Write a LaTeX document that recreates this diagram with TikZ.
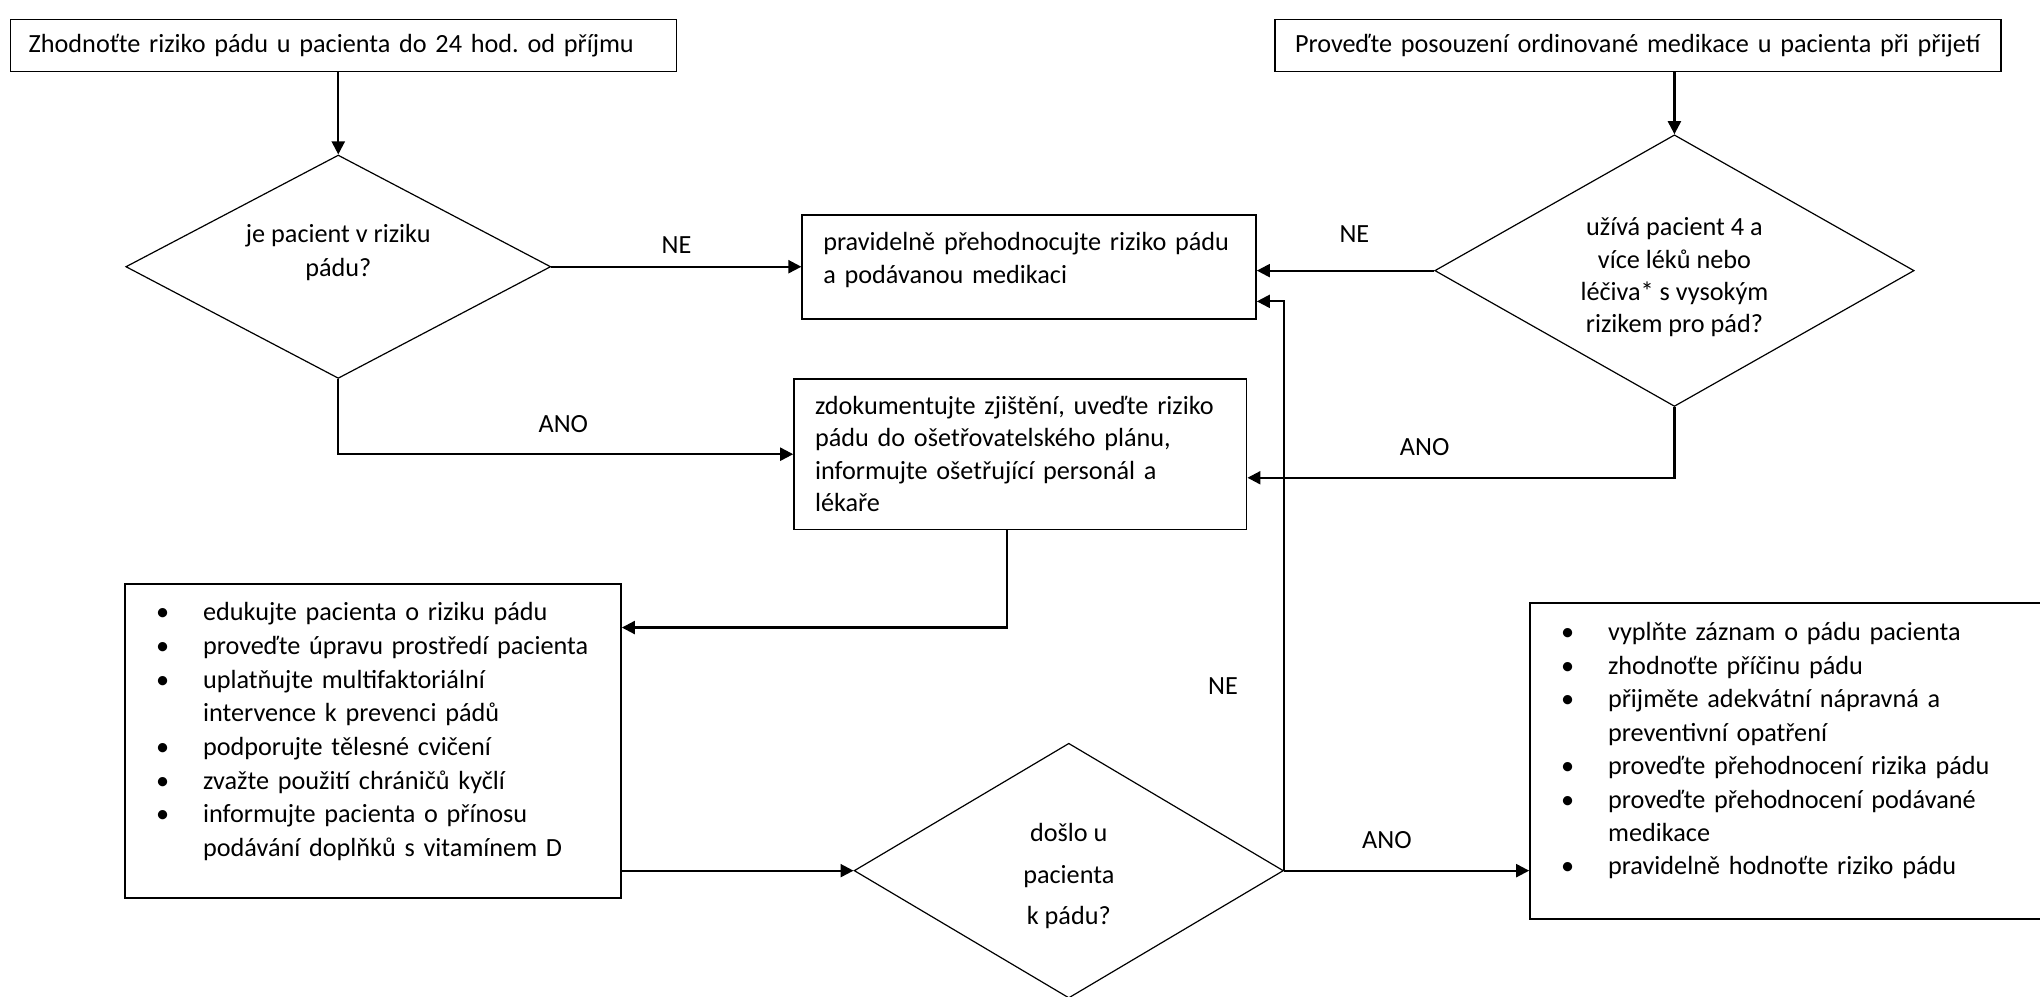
\documentclass[tikz,border=0pt]{standalone}
\usepackage{fontspec}
\setmainfont{Carlito}
\usetikzlibrary{arrows.meta,shapes.geometric,calc}
\newcommand\bitem[1]{\mbox{\makebox[23.4pt][l]{•}#1}}
\newcommand\citem[1]{\mbox{\hspace*{23.4pt}#1}}
\frenchspacing
\begin{document}
\begin{tikzpicture}[x=0.65pt,y=-0.65pt,
  every node/.style={font=\fontsize{13.1}{16.4}\selectfont},
  box/.style={draw, line width=0.85pt, rectangle, align=left, inner ysep=2pt},
  dia/.style={draw, line width=0.6pt, diamond, align=center, inner sep=0pt},
  conn/.style={line width=1.1pt, -{Triangle[length=6.5pt,width=6.5pt]}},
  lbl/.style={inner sep=0pt}
]
\useasboundingbox (0,0) rectangle (1568,766);

% boxes
\node[box, minimum width=332.8pt, minimum height=26pt, inner xsep=9.1pt, text width=314.6pt] (b1) at (264,35)
  {\mbox{Zhodnoťte riziko pádu u pacienta do 24 hod. od příjmu}};
\node[box, minimum width=362.7pt, minimum height=26pt, inner xsep=10pt, text width=342.7pt] (b2) at (1259,35)
  {\mbox{Proveďte posouzení ordinované medikace u pacienta při přijetí}};
\node[box, minimum width=226.7pt, minimum height=52.1pt, inner xsep=10.5pt, text width=205.7pt,
  text depth=25.5pt] (p) at (791,205.35)
  {\mbox{pravidelně přehodnocujte riziko pádu}\\\mbox{a podávanou medikaci}};
\node[box, minimum width=226.1pt, minimum height=75.1pt, inner xsep=10.5pt, text width=205.1pt,
  text depth=49pt, font=\fontsize{13.1}{16.2}\selectfont] (z) at (784.25,349.1)
  {\mbox{zdokumentujte zjištění, uveďte riziko}\\\mbox{pádu do ošetřovatelského plánu,}\\\mbox{informujte ošetřující personál a}\\\mbox{lékaře}};
\node[box, minimum width=247.8pt, minimum height=156.65pt, inner xsep=15.6pt, text width=216.6pt,
  text depth=129pt, font=\fontsize{13.1}{16.8}\selectfont] (l1) at (286.7,569.5)
  {\bitem{edukujte pacienta o riziku pádu}\\
   \bitem{proveďte úpravu prostředí pacienta}\\
   \bitem{uplatňujte multifaktoriální}\\
   \citem{intervence k prevenci pádů}\\
   \bitem{podporujte tělesné cvičení}\\
   \bitem{zvažte použití chráničů kyčlí}\\
   \bitem{informujte pacienta o přínosu}\\
   \citem{podávání doplňků s vitamínem D}};
\node[box, minimum width=257.4pt, minimum height=158.2pt, inner xsep=15.6pt, text width=226.2pt,
  text depth=129pt, font=\fontsize{13.1}{16.7}\selectfont] (l2) at (1374,584.9)
  {\bitem{vyplňte záznam o pádu pacienta}\\
   \bitem{zhodnoťte příčinu pádu}\\
   \bitem{přijměte adekvátní nápravná a}\\
   \citem{preventivní opatření}\\
   \bitem{proveďte přehodnocení rizika pádu}\\
   \bitem{proveďte přehodnocení podávané}\\
   \citem{medikace}\\
   \bitem{pravidelně hodnoťte riziko pádu}};

% diamonds
\node[dia, aspect=2, minimum width=212.3pt, minimum height=111.6pt, text depth=16pt,
  font=\fontsize{13.1}{17}\selectfont] (d1) at (260,205)
  {je pacient v riziku\\pádu?};
\node[dia, aspect=1.8, minimum width=239.5pt, minimum height=135.7pt, text height=64pt,
  font=\fontsize{13.1}{16.1}\selectfont] (d2) at (1287,208)
  {užívá pacient 4 a\\více léků nebo\\léčiva* s vysokým\\rizikem pro pád?};
\node[dia, aspect=1.7, minimum width=214.5pt, minimum height=127.3pt, text height=56.4pt,
  font=\fontsize{13.1}{20.8}\selectfont] (d3) at (821.5,669.2)
  {došlo u\\pacienta\\k pádu?};

% helper coordinates
\coordinate (zin) at ($(z.north east)!0.655!(z.south east)$);
\coordinate (zout) at ($(z.south)+(-10,0)$);
\coordinate (l1in) at ($(l1.north east)+(0,34)$);
\coordinate (pin) at ($(p.north east)+(0,67)$);

% connectors
\draw[conn] (d1.north |- b1.south) -- (d1.north);
\draw[conn] (d1.east) -- (d1.east -| p.west);
\draw[conn] (d1.south) |- (z.west);
\draw[conn] (d2.north |- b2.south) -- (d2.north);
\draw[conn] (d2.west) -- (d2.west -| p.east);
\draw[conn] (d2.south) |- (zin);
\draw[conn] (zout) |- (l1in);
\draw[conn] (l1.east |- d3.west) -- (d3.west);
\draw[conn] (d3.east) -- (d3.east -| l2.west);
\draw[conn] (d3.east) |- (pin);

% labels
\node[lbl] (ne1) at (520,188) {NE};
\node[lbl] (ne2) at (1041,180) {NE};
\node[lbl] (ano1) at (433,326) {ANO};
\node[lbl] (ano2) at (1095,344) {ANO};
\node[lbl] (ne3) at (940,527) {NE};
\node[lbl] (ano3) at (1066,646) {ANO};
\end{tikzpicture}
\end{document}
